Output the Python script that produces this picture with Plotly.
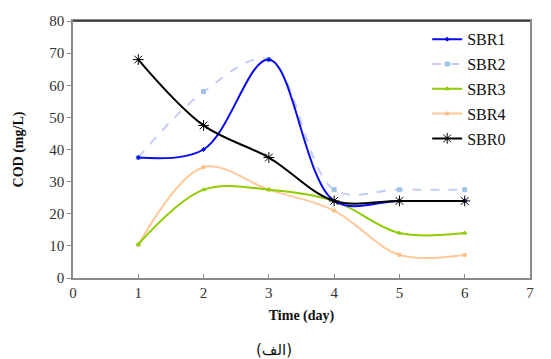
import plotly.graph_objects as go

days = [1, 2, 3, 4, 5, 6]
sbr1 = [37.5, 40, 68, 24, 24, 24]
sbr2 = [37.5, 58, 68, 27.5, 27.5, 27.5]
sbr3 = [10.5, 27.5, 27.5, 24, 14, 14]
sbr4 = [10.3, 34.5, 27.5, 21, 7.2, 7.2]
sbr0 = [68, 47.5, 37.5, 24, 24, 24]

series = [
    # name, values, color, dash, symbol, size, rank
    ("SBR4", sbr4, "#FFC898", "solid", "square", 3, 4),
    ("SBR3", sbr3, "#8FCC00", "solid", "triangle-up", 4, 3),
    ("SBR2", sbr2, "#C3CCF7", "dash", "square", 4, 2),
    ("SBR1", sbr1, "#0A0AF0", "solid", "diamond", 3, 1),
    ("SBR0", sbr0, "#000000", "solid", "asterisk-open", 9, 5),
]
marker_colors = {"SBR4": "#FBC08E", "SBR3": "#8FCC00", "SBR2": "#9DC3E6",
                 "SBR1": "#0A0AF0", "SBR0": "#000000"}

fig = go.Figure()
for name, vals, col, dash, sym, size, rank in series:
    fig.add_trace(go.Scatter(
        x=days, y=vals, name=name, mode="lines+markers",
        line=dict(color=col, width=2, dash=dash, shape="spline", smoothing=1),
        marker=dict(symbol=sym, size=size, color=marker_colors[name],
                    line=dict(color=marker_colors[name], width=1)),
        legendrank=rank, legendgroup=name,
    ))

serif = "Liberation Serif"
fig.update_layout(
    width=551, height=359,
    margin=dict(l=73, r=21, t=21, b=81),
    paper_bgcolor="white", plot_bgcolor="white",
    font=dict(family=serif, size=15, color="#333333"),
    showlegend=True,
    legend=dict(x=0.775, y=0.995, xanchor="left", yanchor="top",
                bgcolor="rgba(0,0,0,0)", font=dict(family=serif, size=16, color="#111111"),
                tracegroupgap=1, itemwidth=30),
    xaxis=dict(range=[0, 7], dtick=1, tick0=0, showgrid=False, zeroline=False,
               showline=True, linecolor="#8a8a8a", linewidth=1.5, mirror=True,
               ticks="inside", ticklen=4, tickcolor="#8a8a8a",
               tickfont=dict(family=serif, size=15, color="#333333"),
               title=dict(text="<b>Time (day)</b>", font=dict(family=serif, size=14, color="#111111"),
                          standoff=10)),
    yaxis=dict(range=[0, 80], dtick=10, showgrid=False, zeroline=False,
               showline=True, linecolor="#8a8a8a", linewidth=1.5, mirror=True,
               ticks="outside", ticklen=4, tickcolor="#8a8a8a",
               tickfont=dict(family=serif, size=15, color="#333333"),
               title=dict(text="<b>COD (mg/L)</b>", font=dict(family=serif, size=14, color="#111111"),
                          standoff=22)),
    shapes=[dict(type="line", xref="paper", yref="paper", x0=0, x1=1, y0=1, y1=1,
                 line=dict(color="#222222", width=1.5))],
    annotations=[dict(text="(الف)", xref="paper", yref="paper", x=0.44, y=-0.28,
                      xanchor="center", yanchor="middle", showarrow=False,
                      font=dict(family="DejaVu Sans", size=15, color="#111111"))],
)

fig.write_html("out.html")
